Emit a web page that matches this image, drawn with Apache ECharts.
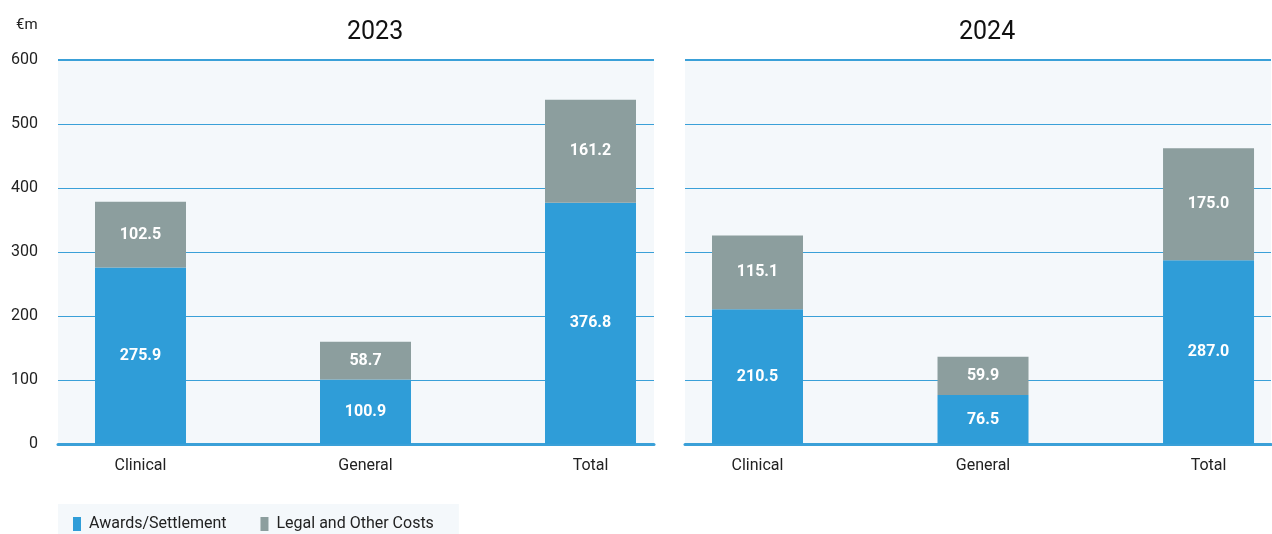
<!DOCTYPE html>
<html>
<head>
<meta charset="utf-8">
<script src="https://cdn.jsdelivr.net/npm/echarts@6/dist/echarts.min.js"></script>
<style>
  html, body { margin: 0; padding: 0; background: #ffffff; }
  #chart { width: 1272px; height: 534px; }
</style>
</head>
<body>
<div id="chart"></div>
<script>
// Claims cost breakdown (€m), by year and claim type
const categories = ['Clinical', 'General', 'Total'];
const years = ['2023', '2024'];
const awards2023 = [275.9, 100.9, 376.8];
const legal2023 = [102.5, 58.7, 161.2];
const awards2024 = [210.5, 76.5, 287.0];
const legal2024 = [115.1, 59.9, 175.0];
const yTicks = [0, 100, 200, 300, 400, 500, 600];

const BLUE = '#2f9dd8';
const GREY = '#8c9e9e';
const LINE = '#3aa0d8';
const PANEL = '#f4f8fb';
const FONT = 'Roboto';

const chart = echarts.init(document.getElementById('chart'), null, { renderer: 'canvas' });

// [value, category index]: the value column comes first so stacking runs on y
const pts = (vals) => vals.map((v, i) => [v, i]);

function xAxisFor(gridIndex, min, max) {
  return {
    type: 'value', gridIndex, min, max,
    splitLine: { show: false },
    axisTick: { show: false },
    axisLine: { show: true, onZero: false, lineStyle: { color: LINE, width: 3 } },
    axisLabel: {
      customValues: [0, 1, 2],
      formatter: (v) => categories[Math.round(v)],
      fontFamily: FONT, fontSize: 16, color: '#222', margin: 14
    }
  };
}

function yAxisFor(gridIndex, showLabels) {
  return {
    type: 'value', gridIndex,
    min: yTicks[0], max: yTicks[yTicks.length - 1], interval: 100,
    axisLine: { show: false },
    axisTick: { show: false },
    splitLine: { show: true, lineStyle: { color: LINE, width: 1 } },
    axisLabel: {
      show: showLabels, fontFamily: FONT, fontSize: 16, color: '#222', margin: 20,
      padding: [3, 0, 0, 0]
    }
  };
}

const barLabel = {
  show: true, position: 'inside', color: '#ffffff',
  fontFamily: FONT, fontSize: 16, fontWeight: 'bold',
  formatter: (p) => p.value[0].toFixed(1)
};

function seriesFor(idx, awards, legal) {
  return [
    {
      name: 'Awards/Settlement', type: 'bar', xAxisIndex: idx, yAxisIndex: idx,
      stack: 'y' + idx, barWidth: 91, data: pts(awards), encode: { x: 1, y: 0 },
      itemStyle: { color: BLUE }, label: barLabel
    },
    {
      name: 'Legal and Other Costs', type: 'bar', xAxisIndex: idx, yAxisIndex: idx,
      stack: 'y' + idx, barWidth: 91, data: pts(legal), encode: { x: 1, y: 0 },
      itemStyle: { color: GREY }, label: barLabel,
      markLine: {
        silent: true, symbol: 'none', label: { show: false },
        lineStyle: { color: LINE, width: 2, type: 'solid' },
        data: [{ yAxis: yTicks[yTicks.length - 1] }]
      }
    }
  ];
}

const titleStyle = { fontFamily: FONT, fontSize: 25, fontWeight: 'normal', color: '#111' };

const option = {
  animation: false,
  backgroundColor: '#ffffff',
  title: [
    { text: years[0], left: 342, top: 15, textStyle: titleStyle },
    { text: years[1], left: 954, top: 15, textStyle: titleStyle },
    { text: '€m', left: 11, top: 13, textStyle: { fontFamily: FONT, fontSize: 15, fontWeight: 'normal', color: '#222' } }
  ],
  legend: {
    left: 58, top: 504,
    backgroundColor: PANEL,
    padding: [12, 25, 9, 15],
    icon: 'rect', itemWidth: 8, itemHeight: 14, itemGap: 34,
    selectedMode: false,
    textStyle: { fontFamily: FONT, fontSize: 16, color: '#222', padding: [0, 0, 0, 3] },
    data: ['Awards/Settlement', 'Legal and Other Costs']
  },
  grid: [
    { left: 58, right: 618, top: 60, bottom: 90, show: true, backgroundColor: PANEL, borderWidth: 0 },
    { left: 685, right: 1, top: 60, bottom: 90, show: true, backgroundColor: PANEL, borderWidth: 0 }
  ],
  xAxis: [xAxisFor(0, -0.3667, 2.2822), xAxisFor(1, -0.3215, 2.277)],
  yAxis: [yAxisFor(0, true), yAxisFor(1, false)],
  series: [
    ...seriesFor(0, awards2023, legal2023),
    ...seriesFor(1, awards2024, legal2024)
  ]
};

chart.setOption(option);
</script>
</body>
</html>
